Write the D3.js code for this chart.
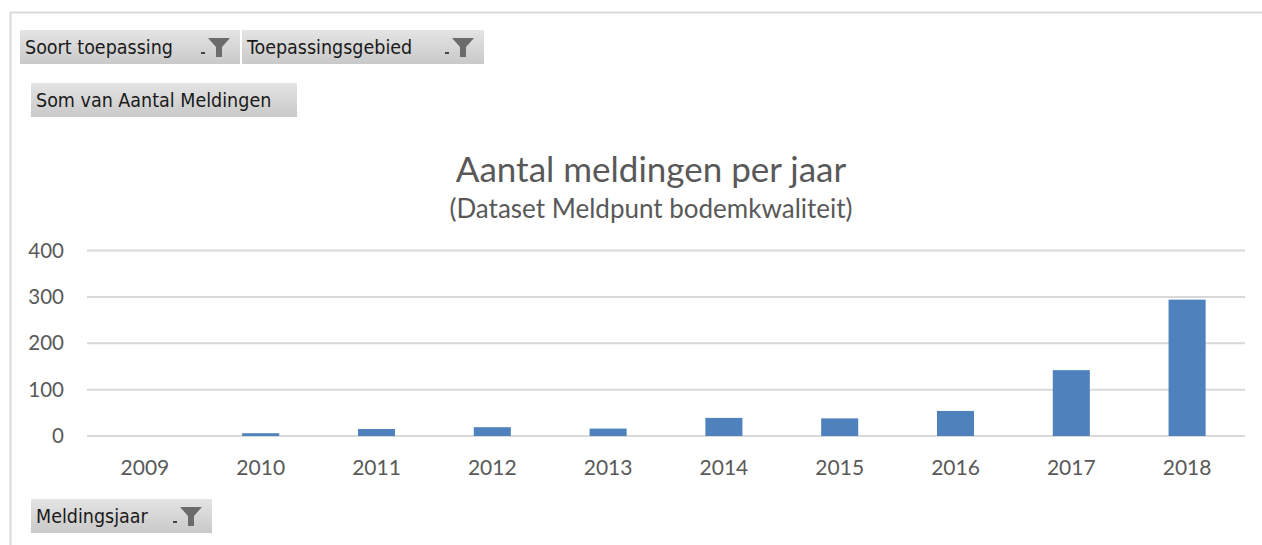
<!DOCTYPE html>
<html>
<head>
<meta charset="utf-8">
<script src="https://cdn.jsdelivr.net/npm/d3@7"></script>
<style>
  body { margin: 0; background: #fff; }
  svg { display: block; }
</style>
</head>
<body>
<svg width="1262" height="545"></svg>
<script>
var years = ["2009", "2010", "2011", "2012", "2013", "2014", "2015", "2016", "2017", "2018"];
var meldingen = [0, 6, 15, 19, 16, 39, 38, 54, 142, 294];
var yTicks = [0, 100, 200, 300, 400];
var filterButtons = ["Soort toepassing", "Toepassingsgebied"];
var valueButton = "Som van Aantal Meldingen";
var axisButton = "Meldingsjaar";

var svg = d3.select("svg");
var chart = {left: 87, right: 1245, top: 250.5, bottom: 436};

var defs = svg.append("defs");
var grad = defs.append("linearGradient").attr("id", "btn").attr("x1", 0).attr("y1", 0).attr("x2", 0).attr("y2", 1);
grad.append("stop").attr("offset", "0%").attr("stop-color", "#e4e4e4");
grad.append("stop").attr("offset", "100%").attr("stop-color", "#c9c9c9");

// frame
svg.append("line").attr("x1", 10.5).attr("x2", 10.5).attr("y1", 12).attr("y2", 545)
    .attr("stroke", "#d9d9d9").attr("stroke-width", 2);
svg.append("line").attr("x1", 10).attr("x2", 1262).attr("y1", 12.5).attr("y2", 12.5)
    .attr("stroke", "#d9d9d9").attr("stroke-width", 2);

function funnel(g, x, y) {
    g.append("path")
        .attr("d", "M" + x + "," + y + " h22 l-8,9 v10 h-6 v-10 z")
        .attr("fill", "#6b6b6b");
    g.append("rect").attr("x", x - 7).attr("y", y + 14).attr("width", 4).attr("height", 2).attr("fill", "#444");
}

function button(x, y, w, h, label, withFilter) {
    var g = svg.append("g");
    g.append("rect").attr("x", x).attr("y", y).attr("width", w).attr("height", h)
        .attr("fill", "url(#btn)");
    g.append("text").attr("x", x + 5).attr("y", y + h / 2 + 7)
        .attr("font-family", "'DejaVu Sans Condensed', 'DejaVu Sans', sans-serif")
        .attr("font-size", 19.5).attr("fill", "#1a1a1a").text(label);
    if (withFilter) funnel(g, x + w - 32, y + 8);
}

button(20, 30, 220, 34, filterButtons[0], true);
button(242, 30, 242, 34, filterButtons[1], true);
button(31, 83, 266, 34, valueButton, false);
button(31, 499, 181, 34, axisButton, true);

// title
svg.append("text").attr("x", 651).attr("y", 182).attr("text-anchor", "middle")
    .attr("font-family", "Lato, 'Open Sans', sans-serif").attr("font-size", 35)
    .attr("fill", "#595959").text("Aantal meldingen per jaar");
svg.append("text").attr("x", 651).attr("y", 218).attr("text-anchor", "middle")
    .attr("font-family", "Lato, 'Open Sans', sans-serif").attr("font-size", 26)
    .attr("fill", "#595959").text("(Dataset Meldpunt bodemkwaliteit)");

var x = d3.scaleBand().domain(years).range([chart.left, chart.right]).paddingInner(0.68).paddingOuter(0.34);
var y = d3.scaleLinear().domain([0, 400]).range([chart.bottom, chart.top]);

// gridlines
svg.append("g").selectAll("line").data(yTicks).enter().append("line")
    .attr("x1", chart.left).attr("x2", chart.right)
    .attr("y1", function(d) { return y(d); }).attr("y2", function(d) { return y(d); })
    .attr("stroke", "#d9d9d9").attr("stroke-width", 2);

var yAxis = svg.append("g").attr("transform", "translate(" + (chart.left - 23) + ",0)")
    .call(d3.axisLeft(y).tickValues(yTicks).tickSize(0).tickPadding(0));
yAxis.select(".domain").remove();
yAxis.selectAll("text").attr("font-family", "Lato, 'Open Sans', sans-serif")
    .attr("font-size", 20.5).attr("fill", "#595959");

// bars
svg.append("g").selectAll("rect").data(meldingen).enter().append("rect")
    .attr("x", function(d, i) { return x(years[i]); })
    .attr("width", x.bandwidth())
    .attr("y", function(d) { return y(d); })
    .attr("height", function(d) { return chart.bottom - y(d); })
    .attr("fill", "#4f81bd");

var xAxis = svg.append("g").attr("transform", "translate(0," + (chart.bottom + 24) + ")")
    .call(d3.axisBottom(x).tickSize(0).tickPadding(0));
xAxis.select(".domain").remove();
xAxis.selectAll("text").attr("font-family", "Lato, 'Open Sans', sans-serif")
    .attr("font-size", 21).attr("fill", "#595959");
</script>
</body>
</html>
